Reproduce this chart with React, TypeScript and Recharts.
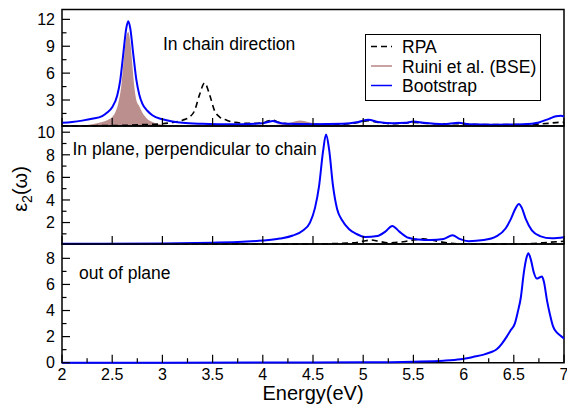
import { ComposedChart, Line, Area, XAxis, YAxis, ReferenceArea, Legend } from "recharts";

// energy grid + values (eV, eps2)
const topBootE = [2.0, 2.1, 2.2, 2.3, 2.4, 2.45, 2.5, 2.55, 2.58, 2.61, 2.64, 2.66, 2.68, 2.71, 2.74, 2.77, 2.8, 2.85, 2.9, 3.0, 3.1, 3.2, 3.4, 3.6, 3.8, 4.0, 4.05, 4.1, 4.15, 4.25, 4.5, 4.8, 4.95, 5.05, 5.15, 5.3, 5.42, 5.5, 5.6, 5.8, 5.95, 6.05, 6.3, 6.6, 6.75, 6.85, 6.92, 6.97, 7.0];
const topBootV = [0.45, 0.55, 0.7, 0.9, 1.2, 1.6, 2.2, 3.5, 5.2, 8.1, 11.0, 11.8, 11.0, 8.1, 5.3, 3.6, 2.6, 1.8, 1.3, 0.85, 0.6, 0.45, 0.35, 0.3, 0.3, 0.4, 0.55, 0.65, 0.5, 0.35, 0.3, 0.35, 0.55, 0.8, 0.55, 0.4, 0.45, 0.6, 0.45, 0.3, 0.45, 0.3, 0.25, 0.3, 0.5, 0.9, 1.2, 1.25, 1.15];

const topBseE = [2.0, 2.2, 2.3, 2.4, 2.45, 2.5, 2.53, 2.56, 2.59, 2.62, 2.645, 2.66, 2.68, 2.7, 2.72, 2.74, 2.77, 2.8, 2.84, 2.9, 3.0, 3.2, 3.6, 4.0, 4.2, 4.3, 4.37, 4.45, 4.55, 4.8, 5.5, 6.0, 6.5, 7.0];
const topBseV = [0.1, 0.15, 0.3, 0.55, 0.75, 1.1, 1.6, 2.6, 4.5, 8.0, 10.3, 10.6, 9.5, 7.0, 4.5, 3.0, 2.3, 1.6, 1.0, 0.55, 0.25, 0.12, 0.12, 0.15, 0.3, 0.55, 0.7, 0.55, 0.3, 0.15, 0.12, 0.12, 0.12, 0.12];

const topRpaE = [2.0, 2.5, 2.8, 3.0, 3.1, 3.2, 3.27, 3.32, 3.37, 3.42, 3.47, 3.52, 3.57, 3.64, 3.72, 3.85, 4.0, 4.05, 4.1, 4.15, 4.25, 4.5, 4.8, 4.95, 5.05, 5.15, 5.3, 5.5, 5.7, 5.95, 6.2, 6.6, 6.85, 6.95, 7.0];
const topRpaV = [0.12, 0.15, 0.25, 0.35, 0.5, 0.75, 1.1, 1.8, 3.6, 4.9, 3.6, 1.8, 1.1, 0.75, 0.5, 0.4, 0.45, 0.65, 0.75, 0.55, 0.35, 0.3, 0.3, 0.5, 0.7, 0.5, 0.35, 0.5, 0.35, 0.35, 0.25, 0.25, 0.4, 0.5, 0.5];

const midBootE = [2.0, 3.0, 3.5, 3.8, 4.0, 4.17, 4.3, 4.4, 4.47, 4.52, 4.56, 4.6, 4.63, 4.66, 4.7, 4.74, 4.79, 4.86, 4.93, 5.02, 5.14, 5.22, 5.29, 5.36, 5.45, 5.55, 5.67, 5.8, 5.89, 5.96, 6.05, 6.2, 6.33, 6.42, 6.47, 6.52, 6.55, 6.58, 6.62, 6.68, 6.76, 6.88, 7.0];
const midBootV = [0.12, 0.15, 0.22, 0.3, 0.4, 0.58, 0.85, 1.3, 2.0, 3.3, 5.2, 8.3, 9.8, 8.5, 5.2, 3.2, 2.2, 1.4, 1.0, 0.72, 0.8, 1.2, 1.7, 1.2, 0.65, 0.5, 0.45, 0.55, 0.88, 0.55, 0.35, 0.45, 0.8, 1.5, 2.3, 3.3, 3.65, 3.3, 2.3, 1.3, 0.8, 0.6, 0.7];

const midRpaE = [2.0, 4.0, 4.6, 4.9, 5.0, 5.08, 5.15, 5.25, 5.4, 5.5, 5.6, 5.68, 5.8, 5.95, 6.2, 6.6, 6.85, 7.0];
const midRpaV = [0.1, 0.1, 0.12, 0.2, 0.35, 0.45, 0.35, 0.2, 0.3, 0.45, 0.55, 0.45, 0.25, 0.12, 0.1, 0.12, 0.25, 0.35];

const lowBootE = [2.0, 4.0, 5.0, 5.5, 5.8, 5.97, 6.1, 6.2, 6.27, 6.33, 6.38, 6.43, 6.47, 6.51, 6.54, 6.57, 6.6, 6.625, 6.645, 6.67, 6.7, 6.73, 6.76, 6.78, 6.8, 6.83, 6.86, 6.89, 6.93, 6.96, 7.0];
const lowBootV = [0.0, 0.01, 0.03, 0.08, 0.15, 0.26, 0.45, 0.62, 0.8, 1.03, 1.45, 2.0, 2.5, 3.0, 3.9, 5.0, 6.9, 8.0, 8.4, 7.9, 6.9, 6.45, 6.55, 6.6, 6.2, 4.8, 3.7, 2.8, 2.3, 2.1, 1.85];

const xMajor = [2, 2.5, 3, 3.5, 4, 4.5, 5, 5.5, 6, 6.5, 7];
const xAll = [2, 2.25, 2.5, 2.75, 3, 3.25, 3.5, 3.75, 4, 4.25, 4.5, 4.75, 5, 5.25, 5.5, 5.75, 6, 6.25, 6.5, 6.75, 7];
const topYMajor = [3, 6, 9, 12];
const topYTicks = [1.5, 3, 4.5, 6, 7.5, 9, 10.5, 12];
const midYMajor = [2, 4, 6, 8, 10];
const midYTicks = [1, 2, 3, 4, 5, 6, 7, 8, 9, 10];
const lowYMajor = [0, 2, 4, 6, 8];
const lowYTicks = [0, 1, 2, 3, 4, 5, 6, 7, 8];
const legendNames = ["RPA", "Ruini et al. (BSE)", "Bootstrap"];

const pts = (e: number[], v: number[]) => e.map((x, i) => ({ e: x, v: v[i] }));

const FONT = "'Liberation Sans', Arial, sans-serif";
const W = 567;
const X_DOMAIN: [number, number] = [2, 7];
const TOP_Y: [number, number] = [0.1, 13.1];
const MID_Y: [number, number] = [0.1, 10.55];
const LOW_Y: [number, number] = [0, 9.1];

const isMajorX = (v: number) => Math.abs(v * 2 - Math.round(v * 2)) < 1e-6;

// ticks point into the plot (grace style)
const bottomTick = (labels: boolean) => (p: any) => {
  const major = isMajorX(p.payload.value);
  return (
    <g>
      <path d={`M${p.x},${p.y}V${p.y - (major ? 8 : 4.5)}`} stroke="#000" strokeWidth={1.2} fill="none" />
      {labels && major && (
        <text x={p.x} y={p.y + 17.5} textAnchor="middle" fontSize={16} fill="#000">
          {p.payload.value}
        </text>
      )}
    </g>
  );
};

const topTick = (p: any) => (
  <path d={`M${p.x},${p.y}V${p.y + 8}`} stroke="#000" strokeWidth={1.2} fill="none" />
);

const leftTick = (majors: number[]) => (p: any) => {
  const major = majors.includes(p.payload.value);
  return (
    <g>
      <path d={`M${p.x},${p.y}H${p.x + (major ? 8 : 4.5)}`} stroke="#000" strokeWidth={1.2} fill="none" />
      {major && (
        <text x={p.x - 7} y={p.y} dy="0.36em" textAnchor="end" fontSize={16} fill="#000">
          {p.payload.value}
        </text>
      )}
    </g>
  );
};

const renderLegend = () => {
  const rows = [12.5, 32, 51.5];
  return (
    <svg width={176} height={67} style={{ display: "block" }}>
      <rect x={0.5} y={0.5} width={175} height={66} fill="#fff" stroke="#000" strokeWidth={1} />
      <line x1={6} x2={27} y1={rows[0]} y2={rows[0]} stroke="#000" strokeWidth={1.5} strokeDasharray="6 4" />
      <line x1={6} x2={27} y1={rows[1]} y2={rows[1]} stroke="#c9a3a3" strokeWidth={2} />
      <line x1={6} x2={27} y1={rows[2]} y2={rows[2]} stroke="#0000ff" strokeWidth={1.5} />
      {legendNames.map((n, i) => (
        <text key={n} x={37} y={rows[i] + 6.5} fontSize={17.5} fill="#000" fontFamily={FONT}>
          {n}
        </text>
      ))}
    </svg>
  );
};

const frame = (y: [number, number]) => (
  <ReferenceArea x1={X_DOMAIN[0]} x2={X_DOMAIN[1]} y1={y[0]} y2={y[1]} fill="none" fillOpacity={0}
    stroke="#000" strokeWidth={1.5} ifOverflow="visible" />
);

export default function App() {
  return (
    <div style={{ position: "absolute", left: 0, top: 0, width: W, height: 405, background: "#fff", fontFamily: FONT }}>
      {/* in chain direction */}
      <div style={{ position: "absolute", left: 0, top: 0 }}>
        <ComposedChart width={W} height={140} margin={{ top: 8.5, right: 3, bottom: 13, left: 0 }}>
          <XAxis dataKey="e" type="number" domain={X_DOMAIN} ticks={xMajor} interval={0}
            height={1} tickSize={0} tickMargin={0} tickLine={false} axisLine={false} tick={bottomTick(false)} />
          <XAxis xAxisId="top" orientation="top" dataKey="e" type="number" domain={X_DOMAIN} ticks={xMajor} interval={0}
            height={1} tickSize={0} tickMargin={0} tickLine={false} axisLine={false} tick={topTick} />
          <YAxis type="number" domain={TOP_Y} ticks={topYTicks} interval={0} width={62}
            tickSize={0} tickMargin={0} tickLine={false} axisLine={false} tick={leftTick(topYMajor)} />
          <Area data={pts(topBseE, topBseV)} dataKey="v" type="monotone" fill="#bc8f8f" fillOpacity={1}
            stroke="none" isAnimationActive={false} name="Ruini et al. (BSE)" />
          <Line data={pts(topRpaE, topRpaV)} dataKey="v" type="monotone" stroke="#000" strokeWidth={1.6}
            strokeDasharray="6 4" dot={false} isAnimationActive={false} name="RPA" />
          <Line data={pts(topBootE, topBootV)} dataKey="v" type="monotone" stroke="#0000ff" strokeWidth={2}
            dot={false} isAnimationActive={false} name="Bootstrap" />
          {frame(TOP_Y)}
          <Legend layout="vertical" align="center" verticalAlign="middle" content={renderLegend}
            wrapperStyle={{ left: 365, top: 34, width: 176, height: 67 }} />
        </ComposedChart>
      </div>

      {/* in plane, perpendicular */}
      <div style={{ position: "absolute", left: 0, top: 116 }}>
        <ComposedChart width={W} height={140} margin={{ top: 10, right: 3, bottom: 11, left: 0 }}>
          <XAxis dataKey="e" type="number" domain={X_DOMAIN} ticks={xMajor} interval={0}
            height={1} tickSize={0} tickMargin={0} tickLine={false} axisLine={false} tick={bottomTick(false)} />
          <YAxis type="number" domain={MID_Y} ticks={midYTicks} interval={0} width={62}
            tickSize={0} tickMargin={0} tickLine={false} axisLine={false} tick={leftTick(midYMajor)} />
          <Line data={pts(midRpaE, midRpaV)} dataKey="v" type="monotone" stroke="#000" strokeWidth={1.6}
            strokeDasharray="6 4" dot={false} isAnimationActive={false} />
          <Line data={pts(midBootE, midBootV)} dataKey="v" type="monotone" stroke="#0000ff" strokeWidth={2}
            dot={false} isAnimationActive={false} />
          {frame(MID_Y)}
        </ComposedChart>
      </div>

      {/* out of plane */}
      <div style={{ position: "absolute", left: 0, top: 234 }}>
        <ComposedChart width={W} height={171} margin={{ top: 10, right: 3, bottom: 0, left: 0 }}>
          <XAxis dataKey="e" type="number" domain={X_DOMAIN} ticks={xAll} interval={0}
            height={42.3} tickSize={0} tickMargin={0} tickLine={false} axisLine={false} tick={bottomTick(true)}
            label={{ value: "Energy(eV)", position: "insideBottom", offset: 5, fontSize: 20, fill: "#000" }} />
          <YAxis type="number" domain={LOW_Y} ticks={lowYTicks} interval={0} width={62}
            tickSize={0} tickMargin={0} tickLine={false} axisLine={false} tick={leftTick(lowYMajor)} />
          <Line data={pts(lowBootE, lowBootV)} dataKey="v" type="monotone" stroke="#0000ff" strokeWidth={2}
            dot={false} isAnimationActive={false} />
          {frame(LOW_Y)}
        </ComposedChart>
      </div>

      <svg width={W} height={405} style={{ position: "absolute", left: 0, top: 0, pointerEvents: "none" }}>
        <g fontFamily={FONT} fill="#000">
          <text x={163} y={49.5} fontSize={17.5}>In chain direction</text>
          <text x={72.5} y={155} fontSize={17.5}>In plane, perpendicular to chain</text>
          <text x={79} y={279} fontSize={17.5}>out of plane</text>
          <text transform="translate(27,189) rotate(-90)" textAnchor="middle" fontSize={20}>
            ε<tspan dy={5} fontSize={14}>2</tspan><tspan dy={-5}>(ω)</tspan>
          </text>
        </g>
      </svg>
    </div>
  );
}
